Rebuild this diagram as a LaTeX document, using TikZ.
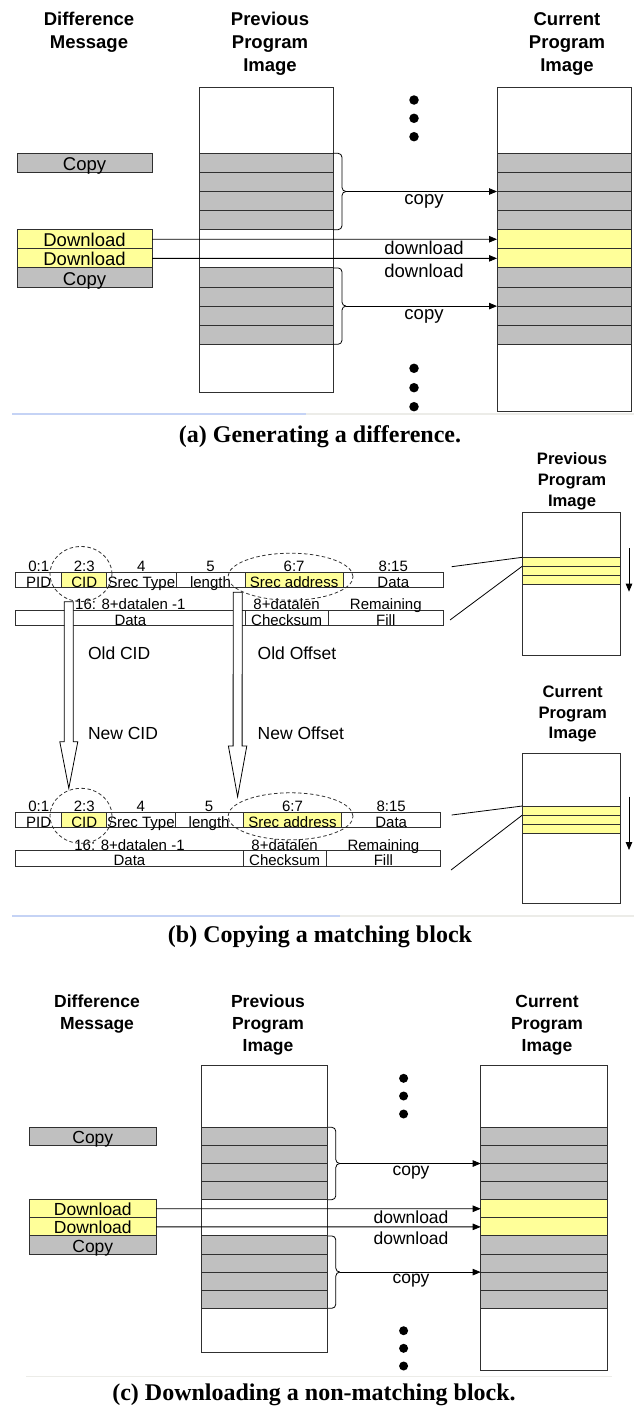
\documentclass[tikz,border=0pt]{standalone}
\usepackage{fontspec}
\setmainfont{Liberation Sans}
\newfontfamily\capfont{Liberation Serif}
\usetikzlibrary{arrows.meta,shapes.geometric,calc}
\definecolor{cellgray}{HTML}{C0C0C0}
\definecolor{cellyel}{HTML}{FFFF99}
\definecolor{linebl}{HTML}{C5D3F5}
\definecolor{linegr}{HTML}{ECECE8}
\definecolor{edge}{HTML}{303030}
\begin{document}
\begin{tikzpicture}[x=1pt,y=-1pt,
 every node/.style={inner sep=0pt,outer sep=0pt},
 hdrA/.style={font=\bfseries\fontsize{18.5}{23}\selectfont,align=center},
 hdrB/.style={font=\bfseries\fontsize{16.6}{20.8}\selectfont,align=center},
 hdrC/.style={font=\bfseries\fontsize{17.5}{22}\selectfont,align=center},
 imgbox/.style={draw=edge,line width=0.9pt,fill=white,anchor=north west},
 rowA/.style={draw=edge,line width=0.9pt,anchor=north west,minimum width=134,minimum height=19.1},
 rowC/.style={draw=edge,line width=0.9pt,anchor=north west,minimum width=126.4,minimum height=18.1},
 gcell/.style={fill=cellgray}, ycell/.style={fill=cellyel},
 msgA/.style={font=\fontsize{18.5}{18.5}\selectfont,text height=15.1pt,text depth=0pt},
 msgC/.style={font=\fontsize{17.5}{17.5}\selectfont,text height=14.1pt,text depth=0pt},
 labA/.style={font=\fontsize{18.5}{18.5}\selectfont},
 labC/.style={font=\fontsize{17.5}{17.5}\selectfont},
 dot/.style={circle,fill=black,minimum size=9.5},
 arr/.style={draw=black,line width=0.8pt,-{Triangle[length=8pt,width=6.5pt]}},
 brc/.style={draw=black,line width=0.8pt,rounded corners=4pt},
 captxt/.style={font=\capfont\bfseries\fontsize{24}{24}\selectfont},
 cellb/.style={draw=edge,line width=0.8pt,anchor=north west,font=\fontsize{15}{15}\selectfont,text height=15pt,text depth=0pt},
 numb/.style={anchor=base,font=\fontsize{15}{15}\selectfont},
 ell/.style={ellipse,draw=black!80,line width=0.8pt,dash pattern=on 3.5pt off 2.5pt},
 hollow/.style={draw=black,line width=0.8pt,fill=white},
 labB/.style={anchor=west,font=\fontsize{17.5}{17.5}\selectfont},
 conn/.style={draw=black,line width=0.8pt},
 ybar/.style={draw=edge,line width=0.9pt,anchor=north west,fill=cellyel,minimum width=97.7},
]
\useasboundingbox (0,0) rectangle (634,1413);
\fill[white] (0,0) rectangle (634,1413);

% ================= (a) =================
\node[hdrA] (aH1) at (89,32) {Difference\\Message};
\node[hdrA] (aH2) at (270,43.6) {Previous\\Program\\Image};
\node[hdrA] (aH3) at (567,43.6) {Current\\Program\\Image};
\node[imgbox,minimum width=134,minimum height=305.4] (aP) at (199,87.3) {};
\node[imgbox,minimum width=134,minimum height=324.4] (aC) at (497,87.3) {};
\foreach \i in {0,1,2,3,6,7,8,9}{
  \node[rowA,gcell] (aP\i) at (199,{153.3+19.1*\i}) {};
  \node[rowA,gcell] (aC\i) at (497,{153.3+19.1*\i}) {};
}
\foreach \i in {4,5} \node[rowA,ycell] (aC\i) at (497,{153.3+19.1*\i}) {};
\node[rowA,gcell,msgA,minimum width=135] (aD0) at (17,153.3) {Copy};
\node[rowA,ycell,msgA,minimum width=135] (aD1) at (17,229.7) {Download};
\node[rowA,ycell,msgA,minimum width=135] (aD2) at (17,248.8) {Download};
\node[rowA,gcell,msgA,minimum width=135] (aD3) at (17,267.9) {Copy};
\coordinate (aT0) at ($(aP1.south east)+(13,0)$);
\coordinate (aT1) at ($(aP7.south east)+(13,0)$);
\draw[brc] (aP0.north east) -- ++(9,0) |- (aT0);
\draw[brc] (aT0) -| ($(aP3.south east)+(9,0)$) -- (aP3.south east);
\draw[brc] (aP6.north east) -- ++(9,0) |- (aT1);
\draw[brc] (aT1) -| ($(aP9.south east)+(9,0)$) -- (aP9.south east);
\draw[arr] (aT0) -- (aC1.south west);
\draw[arr] (aT1) -- (aC7.south west);
\draw[arr] (aD1.east) -- (aC4.west);
\draw[arr] (aD2.east) -- (aC5.west);
\node[labA] (aL0) at (424,201.7) {copy};
\node[labA] (aL1) at (424,248.3) {download};
\node[labA] (aL2) at (424,271) {download};
\node[labA] (aL3) at (424,316.7) {copy};
\foreach \y [count=\k] in {100,118.3,136.7,368.3,387.7,406.7} \node[dot] (aK\k) at (414,\y) {};
\draw[linebl,line width=1.3pt] (12,414) -- (306,414);
\draw[linegr,line width=1.3pt] (306,414) -- (634,414);
\node[captxt] (aCap) at (320,437) {(a) Generating a difference.};

% ================= (b) =================
\node[hdrB] (bH1) at (572,481.4) {Previous\\Program\\Image};
\node[imgbox,minimum width=97.7,minimum height=142.5] (bP) at (522.3,512.7) {};
\foreach \i in {0,1,2} \node[ybar,minimum height=8.9] (bP\i) at (522.3,{557.3+8.9*\i}) {};
\node[hdrB] (bH2) at (572.7,714.1) {Current\\Program\\Image};
\node[imgbox,minimum width=97.7,minimum height=150] (bC) at (522.3,753.3) {};
\foreach \i in {0,1,2} \node[ybar,minimum height=9.1] (bC\i) at (522.3,{806+9.1*\i}) {};
\coordinate (bV0) at (629,548); \coordinate (bV1) at (629,591.7);
\coordinate (bV2) at (629,796.7); \coordinate (bV3) at (629,850);
\draw[arr] (bV0) -- (bV1);
\draw[arr] (bV2) -- (bV3);

% record 1
\foreach \x/\w/\fc/\tx/\nm/\k in {15.7/46/white/PID/0:1/1,61.7/45/cellyel/CID/2:3/2,106.7/69.3/white/Srec Type/4/3,176/69/white/length/5/4,245/98.3/cellyel/Srec address/6:7/5,343.3/100/white/Data/8:15/6}{
  \node[cellb,fill=\fc,minimum width=\w,minimum height=15] (b1a\k) at (\x,572.3) {\tx};
  \node[numb] (b1n\k) at ($(b1a\k.north)+(0,-0.9)$) {\nm};
}
\foreach \x/\w/\tx/\nm/\k in {15.7/229.3/Data/16: 8+datalen -1/1,245/83.3/Checksum/8+datalen/2,328.3/115/Fill/Remaining/3}{
  \node[cellb,fill=white,minimum width=\w,minimum height=15.7] (b1b\k) at (\x,610) {\tx};
  \node[numb] (b1m\k) at ($(b1b\k.north)+(0,-0.6)$) {\nm};
}
% record 2
\foreach \x/\w/\fc/\tx/\nm/\k in {15.7/46/white/PID/0:1/1,61.7/45/cellyel/CID/2:3/2,106.7/68.3/white/Srec Type/4/3,175/68.3/white/length/5/4,243.3/98.4/cellyel/Srec address/6:7/5,341.7/99/white/Data/8:15/6}{
  \node[cellb,fill=\fc,minimum width=\w,minimum height=15] (b2a\k) at (\x,812.3) {\tx};
  \node[numb] (b2n\k) at ($(b2a\k.north)+(0,-0.9)$) {\nm};
}
\foreach \x/\w/\tx/\nm/\k in {15.7/227.6/Data/16: 8+datalen -1/1,243.3/82.7/Checksum/8+datalen/2,326/114.7/Fill/Remaining/3}{
  \node[cellb,fill=white,minimum width=\w,minimum height=15.3] (b2b\k) at (\x,850.7) {\tx};
  \node[numb] (b2m\k) at ($(b2b\k.north)+(0,-0.6)$) {\nm};
}
\node[ell,minimum width=62,minimum height=55] (b1e1) at (81,574) {};
\node[ell,minimum width=125,minimum height=47] (b1e2) at (290.5,576.7) {};
\node[ell,minimum width=62,minimum height=55] (b2e1) at (81,815.8) {};
\node[ell,minimum width=125,minimum height=47] (b2e2) at (290.5,816.3) {};
% hollow arrows
\coordinate (bS1) at (68.8,601.7); \coordinate (bE1) at (68.8,788.3);
\draw[hollow] ($(bS1)+(-4.5,0)$) -- ($(bE1)+(-4.5,-46.6)$) -- ($(bE1)+(-9,-46.6)$) -- (bE1) -- ($(bE1)+(9,-46.6)$) -- ($(bE1)+(4.5,-46.6)$) -- ($(bS1)+(4.5,0)$) -- cycle;
\coordinate (bS2) at (237.7,592.3); \coordinate (bE2) at (237.6,796.7);
\draw[hollow] ($(bS2)+(-4.5,0)$) -- ($(bE2)+(-4.5,-50.7)$) -- ($(bE2)+(-9.2,-50.7)$) -- (bE2) -- ($(bE2)+(9.2,-50.7)$) -- ($(bE2)+(4.5,-50.7)$) -- ($(bS2)+(4.5,0)$) -- cycle;
\node[labB] (bL1) at (88,653.3) {Old CID};
\node[labB] (bL2) at (88,733.3) {New CID};
\node[labB] (bL3) at (257.7,653.3) {Old Offset};
\node[labB] (bL4) at (257.7,733.3) {New Offset};
% slanted connectors
\coordinate (bR1) at (451.7,566.7); \coordinate (bR2) at (450,620);
\coordinate (bR3) at (451.7,815); \coordinate (bR4) at (451,870);
\draw[conn] (bR1) -- (bP0.north west);
\draw[conn] (bR2) -- (bP1.north west);
\draw[conn] (bR3) -- (bC0.north west);
\draw[conn] (bR4) -- (bC1.north west);
\draw[linebl,line width=1.3pt] (12,916) -- (340,916);
\draw[linegr,line width=1.3pt] (340,916) -- (634,916);
\node[captxt] (bCap) at (320,936.7) {(b) Copying a matching block};

% ================= (c) =================
\node[hdrC] (cH1) at (97,1014) {Difference\\Message};
\node[hdrC] (cH2) at (268,1025) {Previous\\Program\\Image};
\node[hdrC] (cH3) at (547,1025) {Current\\Program\\Image};
\node[imgbox,minimum width=126.2,minimum height=287.3] (cP) at (201.6,1065) {};
\node[imgbox,minimum width=126.6,minimum height=305.7] (cC) at (480.7,1065) {};
\foreach \i in {0,1,2,3,6,7,8,9}{
  \node[rowC,gcell,minimum width=126.2] (cP\i) at (201.6,{1127.3+18.1*\i}) {};
  \node[rowC,gcell,minimum width=126.6] (cC\i) at (480.7,{1127.3+18.1*\i}) {};
}
\foreach \i in {4,5} \node[rowC,ycell,minimum width=126.6] (cC\i) at (480.7,{1127.3+18.1*\i}) {};
\node[rowC,gcell,msgC] (cD0) at (29.6,1127.3) {Copy};
\node[rowC,ycell,msgC] (cD1) at (29.6,1199.7) {Download};
\node[rowC,ycell,msgC] (cD2) at (29.6,1217.8) {Download};
\node[rowC,gcell,msgC] (cD3) at (29.6,1235.9) {Copy};
\coordinate (cT0) at ($(cP1.south east)+(12,0)$);
\coordinate (cT1) at ($(cP7.south east)+(12,0)$);
\draw[brc] (cP0.north east) -- ++(8,0) |- (cT0);
\draw[brc] (cT0) -| ($(cP3.south east)+(8,0)$) -- (cP3.south east);
\draw[brc] (cP6.north east) -- ++(8,0) |- (cT1);
\draw[brc] (cT1) -| ($(cP9.south east)+(8,0)$) -- (cP9.south east);
\draw[arr] (cT0) -- (cC1.south west);
\draw[arr] (cT1) -- (cC7.south west);
\draw[arr] (cD1.east) -- (cC4.west);
\draw[arr] (cD2.east) -- (cC5.west);
\node[labC] (cL0) at (411,1172.7) {copy};
\node[labC] (cL1) at (411,1217.3) {download};
\node[labC] (cL2) at (411,1238.3) {download};
\node[labC] (cL3) at (411,1280.7) {copy};
\foreach \y [count=\k] in {1078.3,1096,1114,1330.7,1348.3,1366} \node[dot,minimum size=9] (cK\k) at (403.6,\y) {};
\draw[linegr,line width=1pt] (26,1376.7) -- (612,1376.7);
\node[captxt] (cCap) at (314,1395) {(c) Downloading a non-matching block.};
\end{tikzpicture}
\end{document}
